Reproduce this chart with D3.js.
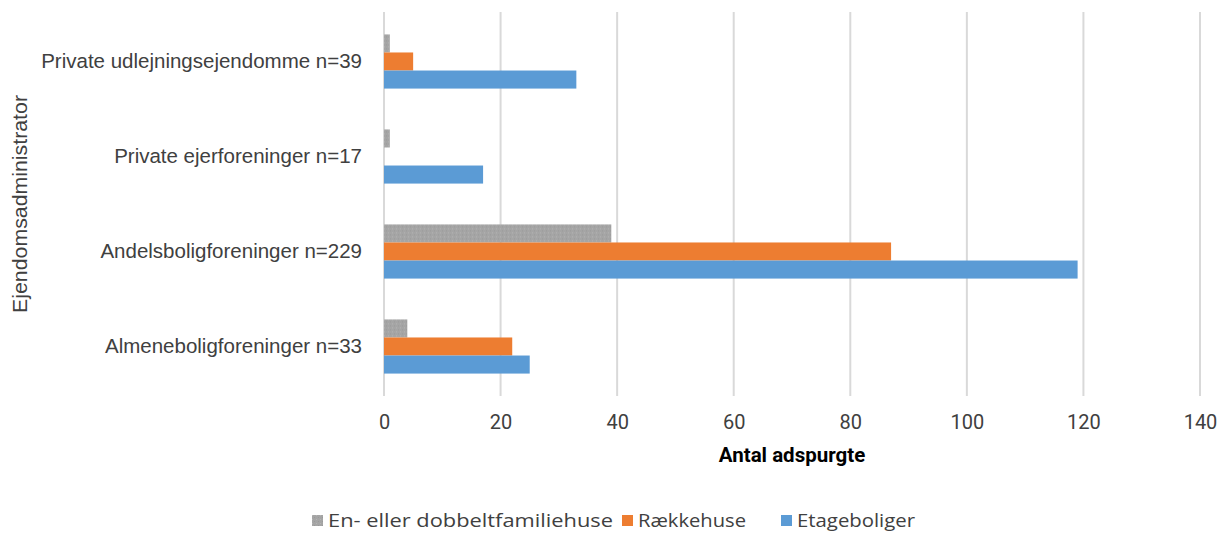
<!DOCTYPE html>
<html>
<head>
<meta charset="utf-8">
<script src="https://cdn.jsdelivr.net/npm/d3@7"></script>
<style>
  html, body { margin: 0; padding: 0; background: #fff; }
  svg { display: block; }
</style>
</head>
<body>
<svg id="chart" width="1218" height="533"></svg>
<script>
// Survey respondents by property administrator type and housing type
const categories = [
  "Private udlejningsejendomme n=39",
  "Private ejerforeninger n=17",
  "Andelsboligforeninger n=229",
  "Almeneboligforeninger n=33"
];
const seriesNames = ["En- eller dobbeltfamiliehuse", "Rækkehuse", "Etageboliger"];
const enDobbelt = [1, 1, 39, 4];
const raekkehuse = [5, 0, 87, 22];
const etageboliger = [33, 17, 119, 25];
const xTicks = [0, 20, 40, 60, 80, 100, 120, 140];
const colors = ["#A5A5A5", "#ED7D31", "#5B9BD5"];

const seriesValues = [enDobbelt, raekkehuse, etageboliger];
const rows = categories.map((c, i) => ({
  category: c,
  values: seriesNames.map((s, k) => ({ series: s, k, value: seriesValues[k][i] }))
}));

const svg = d3.select("#chart");
const margin = { left: 384, right: 18, top: 14, bottom: 139 };
const W = 1218, H = 533;
const innerW = W - margin.left - margin.right;
const innerH = H - margin.top - margin.bottom;
const textFont = "'Roboto', 'Liberation Sans', Arial, sans-serif";

const g = svg.append("g").attr("transform", `translate(${margin.left},${margin.top})`);

const x = d3.scaleLinear().domain([0, 140]).range([0, innerW]);
const y0 = d3.scaleBand().domain(categories).range([0, innerH]).paddingInner(0.43).paddingOuter(0.215);
const y1 = d3.scaleBand().domain(seriesNames).range([0, y0.bandwidth()]);

// subtle stipple for the grey series
const defs = svg.append("defs");
const pat = defs.append("pattern").attr("id", "stipple").attr("patternUnits", "userSpaceOnUse")
  .attr("width", 4).attr("height", 4);
pat.append("rect").attr("width", 4).attr("height", 4).attr("fill", colors[0]);
pat.append("rect").attr("x", 0).attr("y", 0).attr("width", 1).attr("height", 1).attr("fill", "#B4B4B4");
pat.append("rect").attr("x", 2).attr("y", 2).attr("width", 1).attr("height", 1).attr("fill", "#999999");

// vertical gridlines
g.append("g").selectAll("line").data(xTicks).join("line")
  .attr("x1", d => x(d)).attr("x2", d => x(d))
  .attr("y1", -2).attr("y2", innerH + 2)
  .attr("stroke", "#D9D9D9").attr("stroke-width", 2);

// bars
const groups = g.append("g").selectAll("g").data(rows).join("g")
  .attr("transform", d => `translate(0,${y0(d.category)})`);
groups.selectAll("rect").data(d => d.values).join("rect")
  .attr("x", x(0))
  .attr("y", d => y1(d.series))
  .attr("height", y1.bandwidth())
  .attr("width", d => x(d.value) - x(0))
  .attr("fill", d => d.k === 0 ? "url(#stipple)" : colors[d.k]);

// x tick labels
const xAxis = d3.axisBottom(x).tickValues(xTicks).tickSize(0).tickPadding(0);
const xa = g.append("g").attr("transform", `translate(0,${innerH})`).call(xAxis);
xa.select(".domain").remove();
xa.selectAll("text")
  .attr("y", 35)
  .attr("dy", "0")
  .attr("font-family", textFont)
  .attr("font-size", 20)
  .attr("fill", "#404040");

// category labels
const yAxis = d3.axisLeft(y0).tickSize(0).tickPadding(0);
const ya = g.append("g").call(yAxis);
ya.select(".domain").remove();
ya.selectAll("text")
  .attr("x", -22)
  .attr("dy", "0.3em")
  .attr("text-anchor", "end")
  .attr("font-family", "'Liberation Sans', Arial, sans-serif")
  .attr("font-size", 20.5)
  .attr("fill", "#404040");

// axis titles
svg.append("text")
  .attr("x", 792).attr("y", 462)
  .attr("text-anchor", "middle")
  .attr("font-family", textFont)
  .attr("font-size", 20.5).attr("font-weight", "bold")
  .attr("fill", "#000")
  .text("Antal adspurgte");

svg.append("text")
  .attr("transform", "translate(27,204) rotate(-90)")
  .attr("text-anchor", "middle")
  .attr("font-family", "'Liberation Sans', Arial, sans-serif")
  .attr("font-size", 20)
  .attr("textLength", 218).attr("lengthAdjust", "spacingAndGlyphs")
  .attr("fill", "#404040")
  .text("Ejendomsadministrator");

// legend
const legendX = [312, 622, 781];
const legendTextW = [285, 108, 118];
const lg = svg.append("g");
const items = lg.selectAll("g").data(seriesNames).join("g")
  .attr("transform", (d, i) => `translate(${legendX[i]},515)`);
items.append("rect").attr("width", 11).attr("height", 11)
  .attr("fill", (d, i) => i === 0 ? "url(#stipple)" : colors[i]);
items.append("text").attr("x", 16).attr("y", 12)
  .attr("font-family", "'Open Sans', 'Roboto', sans-serif")
  .attr("font-size", 19)
  .attr("textLength", (d, i) => legendTextW[i]).attr("lengthAdjust", "spacingAndGlyphs")
  .attr("fill", "#404040")
  .text(d => d);
</script>
</body>
</html>
